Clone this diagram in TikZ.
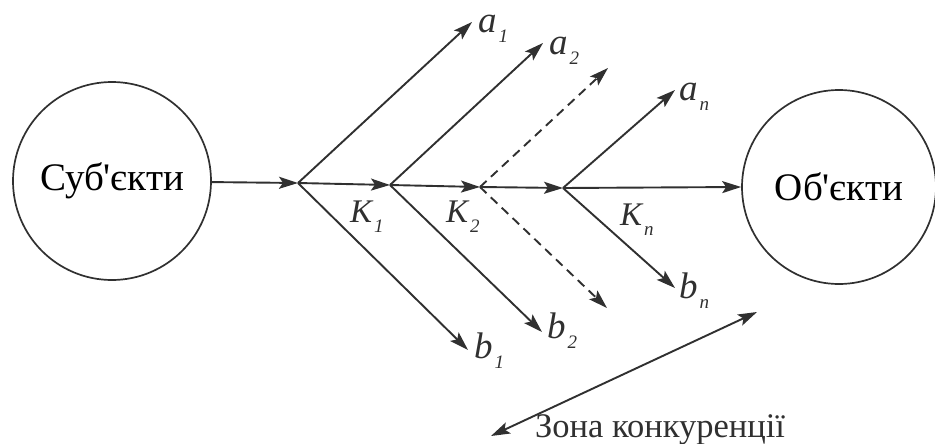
\documentclass[tikz,border=0pt]{standalone}
\usepackage{fontspec}
\setmainfont{Liberation Serif}[Ligatures=TeXOff]
\newfontfamily\sfser{Liberation Serif}[Ligatures=TeXOff]
\usetikzlibrary{arrows.meta}
\definecolor{ink}{HTML}{303030}
\tikzset{
  tipst/.tip={Stealth[length=19pt,width=12pt,inset=4pt]},
  ar/.style={draw=ink, line width=1.9pt, -tipst},
  dar/.style={ar, dash pattern=on 9pt off 6pt},
  circ/.style={circle, draw=ink, line width=1.7pt, minimum size=198pt, inner sep=0pt, font=\sfser\fontsize{39}{42}\selectfont},
  lab/.style={font=\sfser\fontsize{37}{40}\selectfont\itshape, inner sep=0pt, text=ink, anchor=base west},
  labk/.style={lab, font=\sfser\fontsize{33}{36}\selectfont\itshape},
}
\newcommand\sbl[2]{#1\kern2pt\raisebox{-10pt}{\fontsize{19}{20}\selectfont #2}}
\begin{document}
\begin{tikzpicture}[x=1pt,y=-1pt]
\useasboundingbox (0,0) rectangle (935,444);
% circles
\node[circ] (S) at (112,181) {Суб'єкти};
\node[circ, minimum size=194pt] (O) at (839,187) {Об'єкти};
% junctions
\coordinate (j0) at (298,183);
\coordinate (j1) at (390,185);
\coordinate (j2) at (480,187);
\coordinate (jn) at (563,188);
% branch ends
\coordinate (ea1) at (472,22);
\coordinate (eb1) at (468,350);
\coordinate (ea2) at (543,43);
\coordinate (eb2) at (542,332);
\coordinate (ed1) at (608,68);
\coordinate (ed2) at (607,308);
\coordinate (ean) at (675,90);
\coordinate (ebn) at (675,288);
\coordinate (z1) at (491,436);
\coordinate (z2) at (757,312);
% main line
\draw[ar] (S) -- (j0);
\draw[ar] (j0) -- (j1);
\draw[ar] (j1) -- (j2);
\draw[ar] (j2) -- (jn);
\draw[ar] (jn) -- (O.west);
% branches
\draw[ar] (j0) -- (ea1);
\draw[ar] (j0) -- (eb1);
\draw[ar] (j1) -- (ea2);
\draw[ar] (j1) -- (eb2);
\draw[dar] (j2) -- (ed1);
\draw[dar] (j2) -- (ed2);
\draw[ar] (jn) -- (ean);
\draw[ar] (jn) -- (ebn);
\draw[ar, tipst-tipst] (z1) -- (z2);
% labels
\node[lab] (la1) at (478,33) {\sbl{a}{1}};
\node[lab] (la2) at (549,55) {\sbl{a}{2}};
\node[lab] (lan) at (679,100) {\sbl{a}{\textit{n}}};
\node[lab] (lb1) at (474,358) {\sbl{b}{1}};
\node[lab] (lb2) at (547,338) {\sbl{b}{2}};
\node[lab] (lbn) at (679,298) {\sbl{b}{\textit{n}}};
\node[labk] (lk1) at (350,222) {\sbl{K}{1}};
\node[labk] (lk2) at (446,222) {\sbl{K}{2}};
\node[labk] (lkn) at (620,225) {\sbl{K}{\textit{n}}};
\node[font=\sfser\fontsize{34.5}{38}\selectfont, inner sep=0pt, anchor=base west, text=ink] (zt) at (535,437) {Зона конкуренції};
\end{tikzpicture}
\end{document}
